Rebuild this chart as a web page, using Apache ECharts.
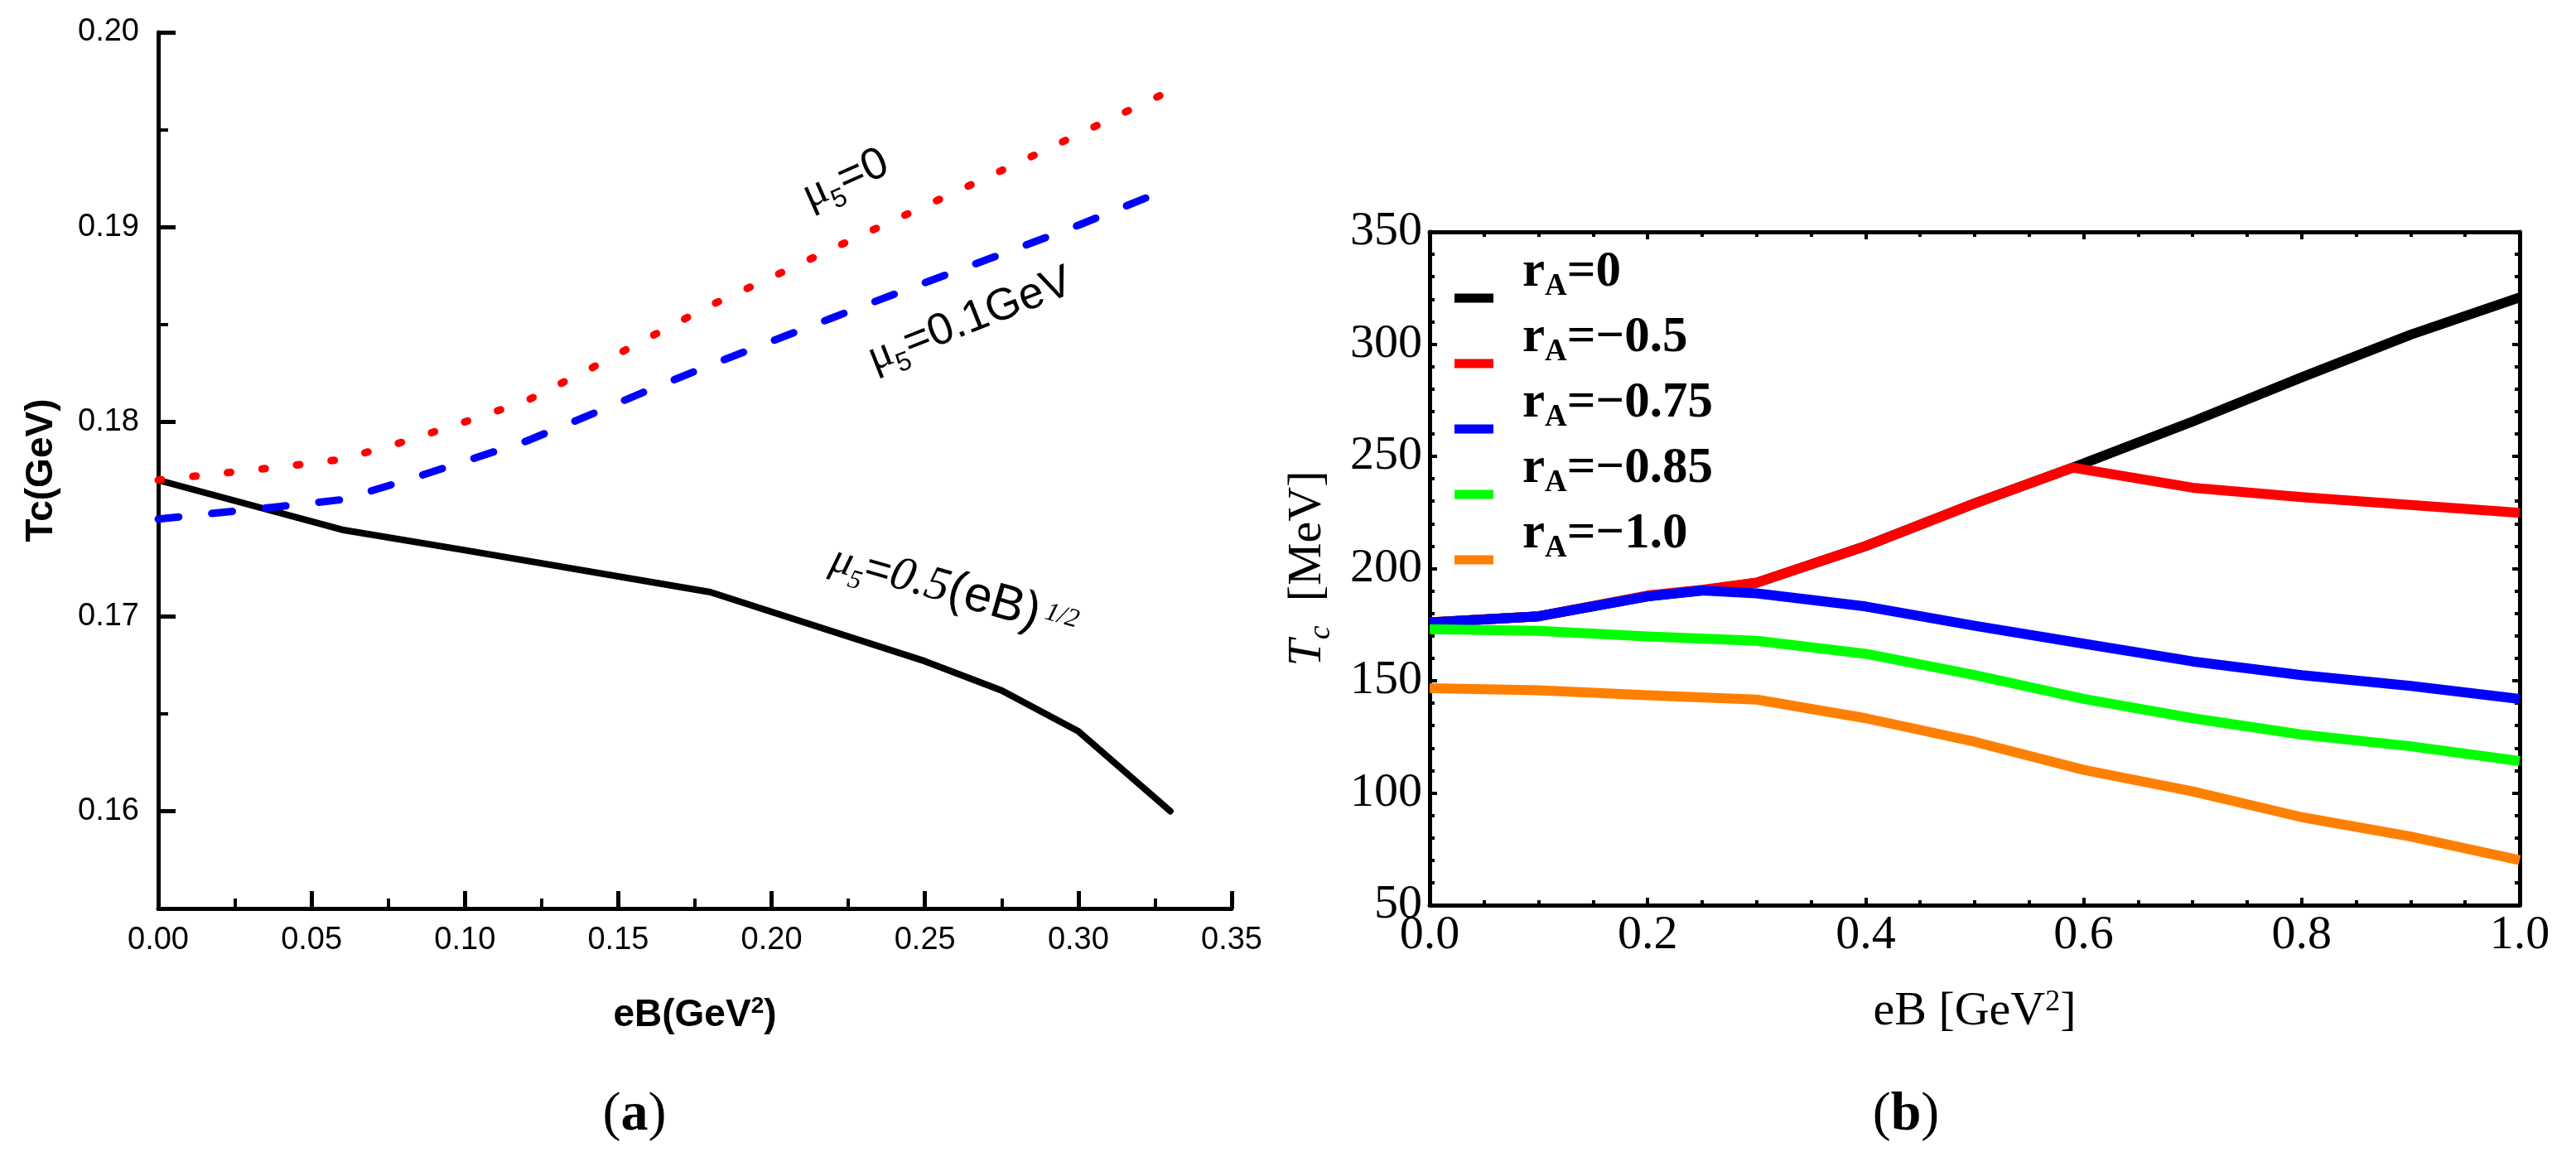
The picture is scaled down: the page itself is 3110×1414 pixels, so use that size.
<!DOCTYPE html>
<html>
<head>
<meta charset="utf-8">
<script src="https://cdn.jsdelivr.net/npm/echarts@6/dist/echarts.min.js"></script>
<style>html,body{margin:0;padding:0;background:#fff}#c{width:3110px;height:1414px}</style>
</head>
<body>
<div id="c"></div>
<script>
// ---------- Panel (a) data ----------
const eB_a = [0, 0.02, 0.04, 0.06, 0.08, 0.10, 0.12, 0.14, 0.16, 0.18, 0.20, 0.22, 0.24, 0.26, 0.28, 0.30, 0.33];
const Tc_mu0 = [0.1770, 0.17734, 0.17768, 0.17807, 0.17897, 0.17999, 0.18107, 0.18265, 0.18432, 0.18597, 0.18742, 0.18890, 0.19036, 0.19180, 0.19327, 0.19476, 0.19700];
const Tc_mu01 = [0.1750, 0.17533, 0.17565, 0.17600, 0.17695, 0.17797, 0.17900, 0.18030, 0.18163, 0.18291, 0.18413, 0.18535, 0.18655, 0.18773, 0.18890, 0.19009, 0.19200];
const eB_a_sqrt = [0, 0.06, 0.10, 0.18, 0.25, 0.275, 0.30, 0.33];
const Tc_muSqrt = [0.1770, 0.17445, 0.1734, 0.17125, 0.1677, 0.1662, 0.1641, 0.1600];
const xTicksA = [0, 0.05, 0.10, 0.15, 0.20, 0.25, 0.30, 0.35];
const yTicksA = [0.16, 0.17, 0.18, 0.19, 0.20];

// ---------- Panel (b) data ----------
const eB_b_peak = [0, 0.1, 0.2, 0.25, 0.3, 0.4, 0.5, 0.59, 0.7, 0.8, 0.9, 1.0];
const eB_b_blue = [0, 0.1, 0.2, 0.25, 0.3, 0.4, 0.5, 0.6, 0.7, 0.8, 0.9, 1.0];
const eB_b = [0, 0.1, 0.2, 0.3, 0.4, 0.5, 0.6, 0.7, 0.8, 0.9, 1.0];
const Tc_r0 = [176, 178.7, 187.6, 190.2, 193.7, 210, 229, 245, 265.5, 285.2, 304.2, 320.8];
const Tc_r05 = [176, 178.7, 188, 190.5, 193.7, 210, 229, 245, 236, 231.8, 228.3, 224.8];
const Tc_r075 = [175.9, 178.7, 187.6, 190.2, 188.9, 183.1, 174.5, 166.5, 158.6, 152.5, 147.7, 141.9];
const Tc_r085 = [173, 172.2, 169.7, 167.8, 162, 152.5, 141.9, 133.3, 126, 120.8, 114.2];
const Tc_r10 = [146.7, 145.8, 143.5, 141.6, 133.3, 122.8, 110.3, 100.7, 89.2, 80.6, 70.1];
const rA_values = ['0', '\u22120.5', '\u22120.75', '\u22120.85', '\u22121.0'];
const xTicksB = [0.0, 0.2, 0.4, 0.6, 0.8, 1.0];
const yTicksB = [50, 100, 150, 200, 250, 300, 350];

const pts = (xs, ys) => xs.map((x, i) => [x, ys[i]]);
const isTick = (arr, v) => arr.some(t => Math.abs(t - v) < 1e-9);
const rAName = v => 'r_A=' + v;

const SANS = 'Liberation Sans';
const SERIF = 'Liberation Serif';
const BLACK = '#000';

const lineA = { show: true, onZero: false, lineStyle: { color: BLACK, width: 5 } };
const lineB = { show: true, onZero: false, lineStyle: { color: BLACK, width: 5 } };

const chart = echarts.init(document.getElementById('c'), null, { renderer: 'canvas' });

const option = {
  backgroundColor: '#fff',
  animation: false,
  grid: [
    { left: 191, top: 39, width: 1296, height: 1058, containLabel: false, outerBoundsMode: 'none' },
    { left: 1726, top: 280, width: 1316, height: 813, containLabel: false, outerBoundsMode: 'none' }
  ],
  xAxis: [
    {
      gridIndex: 0, type: 'value', min: 0, max: 0.35, interval: 0.05, position: 'bottom',
      axisLine: lineA,
      axisTick: { show: true, inside: true, length: 21, lineStyle: { color: BLACK, width: 5 } },
      minorTick: { show: true, splitNumber: 2, length: 12, lineStyle: { color: BLACK, width: 4 } },
      splitLine: { show: false }, minorSplitLine: { show: false },
      axisLabel: { show: true, margin: 20, color: BLACK, fontFamily: SANS, fontSize: 38,
        formatter: v => isTick(xTicksA, v) ? v.toFixed(2) : '' },
      name: '{t|eB(GeV}{s|2}{t|)}', nameLocation: 'middle', nameGap: 104,
      nameTextStyle: {
        rich: {
          t: { fontFamily: SANS, fontWeight: 'bold', fontSize: 46, lineHeight: 48, color: BLACK, verticalAlign: 'bottom' },
          s: { fontFamily: SANS, fontWeight: 'bold', fontSize: 28, lineHeight: 28, color: BLACK, verticalAlign: 'bottom', padding: [0, 0, 20, 0] }
        }
      }
    },
    {
      gridIndex: 1, type: 'value', min: 0, max: 1, interval: 0.2, position: 'bottom',
      axisLine: lineB,
      axisTick: { show: true, inside: true, length: 9, lineStyle: { color: BLACK, width: 4 } },
      minorTick: { show: true, splitNumber: 4, length: 6, lineStyle: { color: BLACK, width: 4 } },
      splitLine: { show: false }, minorSplitLine: { show: false },
      axisLabel: { show: true, margin: 8, color: BLACK, fontFamily: SERIF, fontSize: 58,
        formatter: v => isTick(xTicksB, v) ? v.toFixed(1) : '' },
      name: '{t|eB [GeV}{s|2}{t|]}', nameLocation: 'middle', nameGap: 98,
      nameTextStyle: {
        rich: {
          t: { fontFamily: SERIF, fontSize: 58, lineHeight: 60, color: BLACK, verticalAlign: 'bottom' },
          s: { fontFamily: SERIF, fontSize: 36, lineHeight: 36, color: BLACK, verticalAlign: 'bottom', padding: [0, 0, 22, 0] }
        }
      }
    },
    {
      gridIndex: 1, type: 'value', min: 0, max: 1, interval: 0.2, position: 'top',
      axisLine: lineB,
      axisTick: { show: true, inside: true, length: 9, lineStyle: { color: BLACK, width: 4 } },
      minorTick: { show: true, splitNumber: 4, length: 6, lineStyle: { color: BLACK, width: 4 } },
      splitLine: { show: false }, minorSplitLine: { show: false },
      axisLabel: { show: false }
    }
  ],
  yAxis: [
    {
      gridIndex: 0, type: 'value', min: 0.155, max: 0.20, interval: 0.005, position: 'left', offset: 0,
      axisLine: { show: false, onZero: false },
      axisTick: { show: true, inside: true, length: 12, lineStyle: { color: BLACK, width: 4 } },
      splitLine: { show: false },
      axisLabel: { show: false }
    },
    {
      gridIndex: 0, type: 'value', min: 0.155, max: 0.20, position: 'left', offset: 0,
      axisLine: lineA,
      axisTick: { show: true, inside: true, length: 21, lineStyle: { color: BLACK, width: 5 } },
      splitLine: { show: false },
      axisLabel: { show: true, margin: 23, color: BLACK, fontFamily: SANS, fontSize: 38,
        formatter: v => isTick(yTicksA, v) ? v.toFixed(2) : '' },
      name: 'Tc(GeV)', nameLocation: 'middle', nameGap: 118,
      nameTextStyle: { fontFamily: SANS, fontWeight: 'bold', fontSize: 46, color: BLACK }
    },
    {
      gridIndex: 1, type: 'value', min: 50, max: 350, interval: 50, position: 'left', offset: 0,
      axisLine: lineB,
      axisTick: { show: true, inside: true, length: 9, lineStyle: { color: BLACK, width: 4 } },
      minorTick: { show: true, splitNumber: 5, length: 6, lineStyle: { color: BLACK, width: 4 } },
      splitLine: { show: false }, minorSplitLine: { show: false },
      axisLabel: { show: true, margin: 9, color: BLACK, fontFamily: SERIF, fontSize: 58,
        formatter: v => isTick(yTicksB, v) ? String(v) : '' },
      name: '{ti|T}{cs|c}{t|  [MeV]}', nameLocation: 'middle', nameGap: 112,
      nameTextStyle: {
        rich: {
          ti: { fontFamily: SERIF, fontStyle: 'italic', fontSize: 58, lineHeight: 60, color: BLACK, verticalAlign: 'bottom', padding: [0, 0, 6, 0] },
          cs: { fontFamily: SERIF, fontStyle: 'italic', fontSize: 38, lineHeight: 38, color: BLACK, verticalAlign: 'bottom' },
          t: { fontFamily: SERIF, fontSize: 58, lineHeight: 60, color: BLACK, verticalAlign: 'bottom', padding: [0, 0, 6, 0] }
        }
      }
    },
    {
      gridIndex: 1, type: 'value', min: 50, max: 350, interval: 50, position: 'right', offset: 0,
      axisLine: lineB,
      axisTick: { show: true, inside: true, length: 9, lineStyle: { color: BLACK, width: 4 } },
      minorTick: { show: true, splitNumber: 5, length: 6, lineStyle: { color: BLACK, width: 4 } },
      splitLine: { show: false }, minorSplitLine: { show: false },
      axisLabel: { show: false }
    }
  ],
  legend: {
    show: true, orient: 'vertical', left: 1756, top: 299,
    itemWidth: 47, itemHeight: 11, itemGap: -12, icon: 'rect',
    selectedMode: false, padding: 0,
    data: rA_values.map(rAName),
    formatter: n => '{rf|r}{s|A}{t|=' + n.split('=')[1] + '}',
    textStyle: {
      rich: {
        rf: { fontFamily: SERIF, fontWeight: 'bold', fontSize: 61, lineHeight: 60, color: BLACK, verticalAlign: 'bottom', padding: [0, 0, 30, 30] },
        t: { fontFamily: SERIF, fontWeight: 'bold', fontSize: 61, lineHeight: 60, color: BLACK, verticalAlign: 'bottom', padding: [0, 0, 30, 0] },
        s: { fontFamily: SERIF, fontWeight: 'bold', fontSize: 37, lineHeight: 36, color: BLACK, verticalAlign: 'bottom', padding: [0, 0, 25, 0] }
      }
    }
  },
  series: [
    // panel (a)
    { name: 'mu5=0.5(eB)^1/2', type: 'line', xAxisIndex: 0, yAxisIndex: 1, data: pts(eB_a_sqrt, Tc_muSqrt),
      symbol: 'none', silent: true, lineStyle: { color: BLACK, width: 8, cap: 'round', join: 'round' } },
    { name: 'mu5=0.1GeV', type: 'line', xAxisIndex: 0, yAxisIndex: 1, data: pts(eB_a, Tc_mu01),
      symbol: 'none', silent: true, lineStyle: { color: '#0000ff', width: 9, type: [25, 40], cap: 'round', join: 'round' } },
    { name: 'mu5=0', type: 'line', xAxisIndex: 0, yAxisIndex: 1, data: pts(eB_a, Tc_mu0),
      symbol: 'none', silent: true, lineStyle: { color: '#ff0000', width: 9, type: [4, 38], cap: 'round', join: 'round' } },
    // panel (b)
    { name: rAName(rA_values[0]), type: 'line', xAxisIndex: 1, yAxisIndex: 2, data: pts(eB_b_peak, Tc_r0),
      symbol: 'none', silent: true, itemStyle: { color: '#000000' }, lineStyle: { color: '#000000', width: 12, join: 'round' } },
    { name: rAName(rA_values[1]), type: 'line', xAxisIndex: 1, yAxisIndex: 2, data: pts(eB_b_peak, Tc_r05),
      symbol: 'none', silent: true, itemStyle: { color: '#ff0000' }, lineStyle: { color: '#ff0000', width: 12, join: 'round' } },
    { name: rAName(rA_values[2]), type: 'line', xAxisIndex: 1, yAxisIndex: 2, data: pts(eB_b_blue, Tc_r075),
      symbol: 'none', silent: true, itemStyle: { color: '#0000ff' }, lineStyle: { color: '#0000ff', width: 12, join: 'round' } },
    { name: rAName(rA_values[3]), type: 'line', xAxisIndex: 1, yAxisIndex: 2, data: pts(eB_b, Tc_r085),
      symbol: 'none', silent: true, itemStyle: { color: '#00ff00' }, lineStyle: { color: '#00ff00', width: 12, join: 'round' } },
    { name: rAName(rA_values[4]), type: 'line', xAxisIndex: 1, yAxisIndex: 2, data: pts(eB_b, Tc_r10),
      symbol: 'none', silent: true, itemStyle: { color: '#ff8000' }, lineStyle: { color: '#ff8000', width: 12, join: 'round' } }
  ],
  graphic: [
    { type: 'text', x: 1024, y: 224, rotation: 24 * Math.PI / 180, silent: true,
      style: { text: '{m|\u03bc}{s|5}{t|=0}', align: 'center', verticalAlign: 'middle',
        rich: {
          m: { fontFamily: SERIF, fontSize: 54, lineHeight: 54, fill: BLACK, verticalAlign: 'bottom', padding: [0, 0, 8, 0] },
          s: { fontFamily: SANS, fontSize: 32, lineHeight: 32, fill: BLACK, verticalAlign: 'bottom' },
          t: { fontFamily: SANS, fontSize: 54, lineHeight: 54, fill: BLACK, verticalAlign: 'bottom', padding: [0, 0, 8, 0] }
        } } },
    { type: 'text', x: 1174, y: 394, rotation: 21.5 * Math.PI / 180, silent: true,
      style: { text: '{m|\u03bc}{s|5}{t|=0.1GeV}', align: 'center', verticalAlign: 'middle',
        rich: {
          m: { fontFamily: SERIF, fontSize: 54, lineHeight: 54, fill: BLACK, verticalAlign: 'bottom', padding: [0, 0, 8, 0] },
          s: { fontFamily: SANS, fontSize: 32, lineHeight: 32, fill: BLACK, verticalAlign: 'bottom' },
          t: { fontFamily: SANS, fontSize: 54, lineHeight: 54, fill: BLACK, verticalAlign: 'bottom', padding: [0, 0, 8, 0] }
        } } },
    { type: 'text', x: 1150, y: 722, rotation: -16 * Math.PI / 180, silent: true,
      style: { text: '{m|\u03bc}{s|5}{e|=}{i|0.5}{t|(eB)}{p|\u20091/2}', align: 'center', verticalAlign: 'middle',
        rich: {
          m: { fontFamily: SERIF, fontStyle: 'italic', fontSize: 52, lineHeight: 58, fill: BLACK, verticalAlign: 'bottom', padding: [0, 0, 8, 0] },
          s: { fontFamily: SERIF, fontStyle: 'italic', fontSize: 32, lineHeight: 32, fill: BLACK, verticalAlign: 'bottom' },
          e: { fontFamily: SANS, fontSize: 54, lineHeight: 58, fill: BLACK, verticalAlign: 'bottom', padding: [0, 0, 8, 0] },
          i: { fontFamily: SERIF, fontStyle: 'italic', fontSize: 58, lineHeight: 58, fill: BLACK, verticalAlign: 'bottom', padding: [0, 0, 8, 0] },
          t: { fontFamily: SANS, fontSize: 60, lineHeight: 58, fill: BLACK, verticalAlign: 'bottom', padding: [0, 0, 8, 0] },
          p: { fontFamily: SERIF, fontStyle: 'italic', fontSize: 32, lineHeight: 32, fill: BLACK, verticalAlign: 'bottom', padding: [0, 0, 28, 0] }
        } } },
    { type: 'text', x: 766, y: 1345, silent: true,
      style: { text: '{p|(}{b|a}{p|)}', align: 'center', verticalAlign: 'middle',
        rich: {
          p: { fontFamily: SERIF, fontSize: 66, lineHeight: 70, fill: BLACK, verticalAlign: 'bottom' },
          b: { fontFamily: SERIF, fontWeight: 'bold', fontSize: 66, lineHeight: 70, fill: BLACK, verticalAlign: 'bottom' }
        } } },
    { type: 'text', x: 2301, y: 1345, silent: true,
      style: { text: '{p|(}{b|b}{p|)}', align: 'center', verticalAlign: 'middle',
        rich: {
          p: { fontFamily: SERIF, fontSize: 66, lineHeight: 70, fill: BLACK, verticalAlign: 'bottom' },
          b: { fontFamily: SERIF, fontWeight: 'bold', fontSize: 66, lineHeight: 70, fill: BLACK, verticalAlign: 'bottom' }
        } } }
  ]
};
chart.setOption(option);
</script>
</body>
</html>
